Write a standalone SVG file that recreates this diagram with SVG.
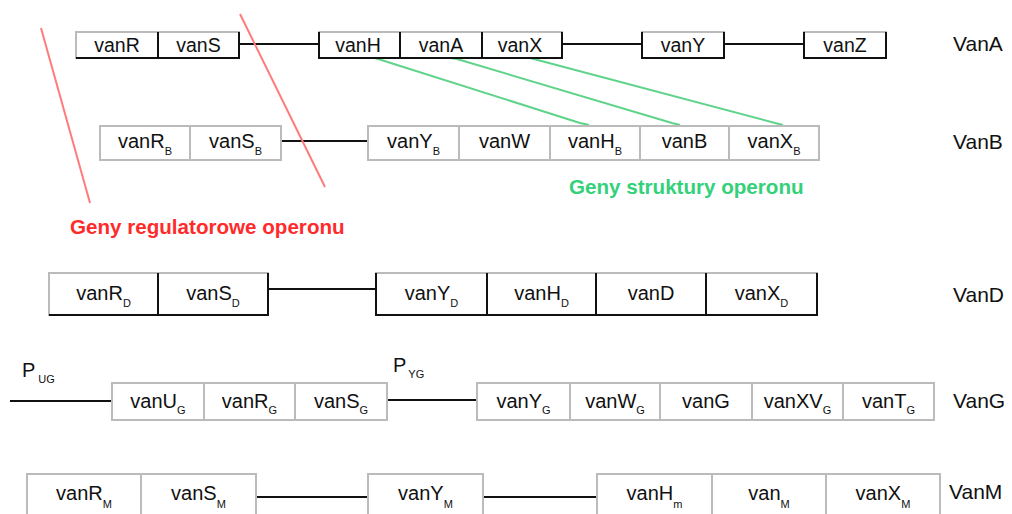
<svg xmlns="http://www.w3.org/2000/svg" width="1012" height="514" viewBox="0 0 1012 514">
  <style>
    text { font-family: "Liberation Sans", Arial, sans-serif; fill: #111; }
    .g { font-size: 20px; text-anchor: middle; }
    .ga { font-size: 19.5px; text-anchor: middle; }
    .s { font-size: 11px; }
    .lbl { font-size: 21px; }
    .p { font-size: 20px; }
    .cell { fill: #fff; stroke: #bbb; stroke-width: 2; }
    .edge { stroke: #111; stroke-width: 2; fill: none; }
    .wire { stroke: #111; stroke-width: 2; fill: none; }
    .reg { stroke: #ff7b7b; stroke-width: 2; fill: none; }
    .str { stroke: #5fd38a; stroke-width: 2; fill: none; stroke-linejoin: round; }
    .regt { fill: #ff2b2b; font-weight: bold; font-size: 20.6px; }
    .strt { fill: #33d17a; font-weight: bold; font-size: 20.6px; }
  </style>

  <!-- connectors: intergenic lines, promoter lines and annotation strokes -->
  <g id="connectors">
    <line class="wire" x1="239" y1="44" x2="319" y2="44"/>
    <line class="wire" x1="562" y1="44" x2="642" y2="44"/>
    <line class="wire" x1="724" y1="44" x2="804" y2="44"/>
    <line class="wire" x1="281" y1="141" x2="368" y2="141"/>
    <line class="wire" x1="268" y1="289" x2="376" y2="289"/>
    <line class="wire" x1="10" y1="401" x2="112" y2="401"/>
    <line class="wire" x1="387" y1="400" x2="477" y2="400"/>
    <line class="wire" x1="256" y1="497" x2="368" y2="497"/>
    <line class="wire" x1="483" y1="497" x2="597" y2="497"/>
    <!-- homology links vanA -> vanB cluster -->
    <polyline class="str" points="368,57 375,58 580,123 589,125"/>
    <polyline class="str" points="450,58 457,59 672,123 680,125"/>
    <polyline class="str" points="522,57 530,58 775,123 783,125"/>
    <!-- regulatory gene brackets -->
    <line class="reg" x1="41" y1="28" x2="90" y2="203"/>
    <line class="reg" x1="240" y1="14" x2="325" y2="187"/>
  </g>

  <!-- VanA operon -->
  <g id="VanA">
    <g id="vanR"><rect class="cell" x="76" y="32" width="82" height="26"/><text class="ga" x="117" y="52">vanR</text></g>
    <g id="vanS"><rect class="cell" x="158" y="32" width="81" height="26"/><text class="ga" x="198.5" y="52">vanS</text></g>
    <path class="edge" d="M76 58H239V32M158 32V58"/>
    <g id="vanH"><rect class="cell" x="319" y="32" width="81" height="26"/><text class="ga" x="358" y="52">vanH</text></g>
    <g id="vanA"><rect class="cell" x="400" y="32" width="82" height="26"/><text class="ga" x="441" y="52">vanA</text></g>
    <g id="vanX"><rect class="cell" x="482" y="32" width="80" height="26"/><text class="ga" x="520" y="52">vanX</text></g>
    <path class="edge" d="M319 32V58H562V32M400 32V58M482 32V58"/>
    <g id="vanY"><rect class="cell" x="642" y="32" width="82" height="26"/><text class="ga" x="683" y="52">vanY</text></g>
    <path class="edge" d="M642 32V58H724V32"/>
    <g id="vanZ"><rect class="cell" x="804" y="32" width="82" height="26"/><text class="ga" x="845" y="52">vanZ</text></g>
    <path class="edge" d="M804 32V58H886V32"/>
    <text class="lbl" x="953" y="51">VanA</text>
  </g>

  <!-- VanB operon -->
  <g id="VanB">
    <g id="vanRB"><rect class="cell" x="100" y="126" width="90" height="34"/><text class="g" x="145" y="148">vanR<tspan class="s" dy="7">B</tspan></text></g>
    <g id="vanSB"><rect class="cell" x="190" y="126" width="91" height="34"/><text class="g" x="235.5" y="148">vanS<tspan class="s" dy="7">B</tspan></text></g>
    <g id="vanYB"><rect class="cell" x="368" y="126" width="91" height="34"/><text class="g" x="413.5" y="148">vanY<tspan class="s" dy="7">B</tspan></text></g>
    <g id="vanW"><rect class="cell" x="459" y="126" width="91" height="34"/><text class="g" x="504.5" y="148">vanW</text></g>
    <g id="vanHB"><rect class="cell" x="550" y="126" width="90" height="34"/><text class="g" x="595" y="148">vanH<tspan class="s" dy="7">B</tspan></text></g>
    <g id="vanB"><rect class="cell" x="640" y="126" width="89" height="34"/><text class="g" x="684.5" y="148">vanB</text></g>
    <g id="vanXB"><rect class="cell" x="729" y="126" width="90" height="34"/><text class="g" x="774" y="148">vanX<tspan class="s" dy="7">B</tspan></text></g>
    <text class="lbl" x="953" y="149">VanB</text>
  </g>

  <!-- annotation captions -->
  <g id="captions">
    <text class="strt" x="569" y="194">Geny struktury operonu</text>
    <text class="regt" x="70" y="234">Geny regulatorowe operonu</text>
  </g>

  <!-- VanD operon -->
  <g id="VanD">
    <g id="vanRD"><rect class="cell" x="49" y="273" width="109" height="42"/><text class="g" x="103.5" y="300">vanR<tspan class="s" dy="7">D</tspan></text></g>
    <g id="vanSD"><rect class="cell" x="158" y="273" width="110" height="42"/><text class="g" x="213" y="300">vanS<tspan class="s" dy="7">D</tspan></text></g>
    <path class="edge" d="M49 315H268V273M158 273V315"/>
    <g id="vanYD"><rect class="cell" x="376" y="273" width="111" height="42"/><text class="g" x="431.5" y="300">vanY<tspan class="s" dy="7">D</tspan></text></g>
    <g id="vanHD"><rect class="cell" x="487" y="273" width="109" height="42"/><text class="g" x="541.5" y="300">vanH<tspan class="s" dy="7">D</tspan></text></g>
    <g id="vanD"><rect class="cell" x="596" y="273" width="110" height="42"/><text class="g" x="651" y="300">vanD</text></g>
    <g id="vanXD"><rect class="cell" x="706" y="273" width="111" height="42"/><text class="g" x="761.5" y="300">vanX<tspan class="s" dy="7">D</tspan></text></g>
    <path class="edge" d="M376 273V315H817V273M487 273V315M596 273V315M706 273V315"/>
    <text class="lbl" x="953" y="302">VanD</text>
  </g>

  <!-- VanG operon -->
  <g id="VanG">
    <g id="PUG"><text class="p" x="22" y="377">P<tspan class="s" dx="3" dy="6">UG</tspan></text></g>
    <g id="PYG"><text class="p" x="393" y="372">P<tspan class="s" dx="2" dy="6">YG</tspan></text></g>
    <g id="vanUG"><rect class="cell" x="112" y="383" width="92" height="37"/><text class="g" x="158" y="408">vanU<tspan class="s" dy="6">G</tspan></text></g>
    <g id="vanRG"><rect class="cell" x="204" y="383" width="91" height="37"/><text class="g" x="249.5" y="408">vanR<tspan class="s" dy="6">G</tspan></text></g>
    <g id="vanSG"><rect class="cell" x="295" y="383" width="92" height="37"/><text class="g" x="341" y="408">vanS<tspan class="s" dy="6">G</tspan></text></g>
    <g id="vanYG"><rect class="cell" x="477" y="383" width="93" height="37"/><text class="g" x="523.5" y="408">vanY<tspan class="s" dy="6">G</tspan></text></g>
    <g id="vanWG"><rect class="cell" x="570" y="383" width="90" height="37"/><text class="g" x="615" y="408">vanW<tspan class="s" dy="6">G</tspan></text></g>
    <g id="vanG"><rect class="cell" x="660" y="383" width="92" height="37"/><text class="g" x="706" y="408">vanG</text></g>
    <g id="vanXVG"><rect class="cell" x="752" y="383" width="91" height="37"/><text class="g" x="797.5" y="408">vanXV<tspan class="s" dy="6">G</tspan></text></g>
    <g id="vanTG"><rect class="cell" x="843" y="383" width="91" height="37"/><text class="g" x="888.5" y="408">vanT<tspan class="s" dy="6">G</tspan></text></g>
    <text class="lbl" x="953" y="408">VanG</text>
  </g>

  <!-- VanM operon -->
  <g id="VanM">
    <g id="vanRM"><rect class="cell" x="27" y="474" width="114" height="50"/><text class="g" x="84" y="500">vanR<tspan class="s" dy="8">M</tspan></text></g>
    <g id="vanSM"><rect class="cell" x="141" y="474" width="115" height="50"/><text class="g" x="198.5" y="500">vanS<tspan class="s" dy="8">M</tspan></text></g>
    <g id="vanYM"><rect class="cell" x="368" y="474" width="115" height="50"/><text class="g" x="425.5" y="500">vanY<tspan class="s" dy="8">M</tspan></text></g>
    <g id="vanHm"><rect class="cell" x="597" y="474" width="115" height="50"/><text class="g" x="654.5" y="500">vanH<tspan class="s" dy="8">m</tspan></text></g>
    <g id="vanM"><rect class="cell" x="712" y="474" width="114" height="50"/><text class="g" x="769" y="500">van<tspan class="s" dy="8">M</tspan></text></g>
    <g id="vanXM"><rect class="cell" x="826" y="474" width="114" height="50"/><text class="g" x="883" y="500">vanX<tspan class="s" dy="8">M</tspan></text></g>
    <text class="lbl" x="949" y="499">VanM</text>
  </g>
</svg>
